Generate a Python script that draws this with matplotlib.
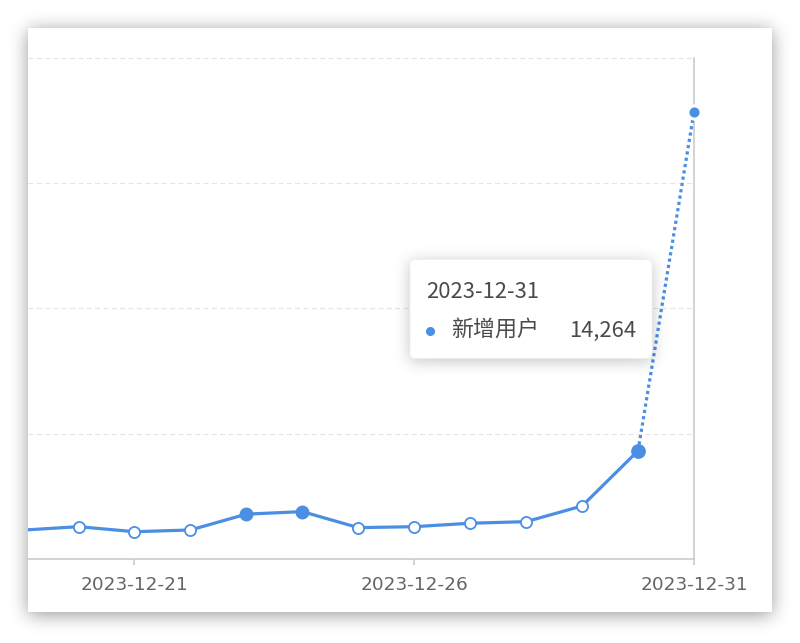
import numpy as np
import pandas as pd
import matplotlib
matplotlib.use('Agg')
import matplotlib.pyplot as plt
import matplotlib.dates as mdates
from matplotlib.patches import FancyBboxPatch, Rectangle

plt.rcParams['font.family'] = ['DejaVu Sans', 'Noto Sans CJK SC']

# data
dates = ['2023-12-19', '2023-12-20', '2023-12-21', '2023-12-22', '2023-12-23',
         '2023-12-24', '2023-12-25', '2023-12-26', '2023-12-27', '2023-12-28',
         '2023-12-29', '2023-12-30', '2023-12-31']
new_users = [930, 1040, 880, 935, 1440, 1520, 1010, 1040, 1150, 1200, 1700, 3460, 14264]
series_name = '新增用户'
tick_dates = ['2023-12-21', '2023-12-26', '2023-12-31']
y_ticks = [0, 4000, 8000, 12000, 16000]

blue = '#4a8fe3'
axis_grey = '#c8c8c8'
W, H = 800, 643


def blurred_box(x0, y0, x1, y1, sigma):
    mask = np.zeros((H, W))
    mask[y0:y1, x0:x1] = 1.0
    k = np.arange(-3 * sigma, 3 * sigma + 1)
    g = np.exp(-k ** 2 / (2.0 * sigma ** 2))
    g /= g.sum()
    mask = np.apply_along_axis(lambda r: np.convolve(r, g, mode='same'), 1, mask)
    mask = np.apply_along_axis(lambda c: np.convolve(c, g, mode='same'), 0, mask)
    return mask


fig = plt.figure(figsize=(W / 100, H / 100), dpi=100)

# card with drop shadow
bg = fig.add_axes([0, 0, 1, 1], zorder=0)
shade = 1 - 0.4 * blurred_box(28, 30, 772, 615, 9)
bg.imshow(shade, cmap='gray', vmin=0, vmax=1, extent=(0, W, H, 0), aspect='auto')
bg.add_patch(Rectangle((28, 28), 744, 584, facecolor='white', edgecolor='none'))
bg.set_xlim(0, W)
bg.set_ylim(H, 0)
bg.axis('off')

# main chart
x = pd.to_datetime(dates)
y = np.array(new_users)
ax = fig.add_axes([28 / W, (H - 559.3) / H, (694 - 28) / W, (559.3 - 57.5) / H], zorder=1)
ax.set_facecolor('none')

x_right = mdates.date2num(x[-1])
x_left = x_right - (694 - 28) / 55.95
ax.set_xlim(x_left, x_right)
ax.set_ylim(y_ticks[0], y_ticks[-1])

for v in y_ticks[1:]:
    ax.axhline(v, color='#e4e4e4', lw=0.8, ls=(0, (4.5, 3)), zorder=0, clip_on=False)
ax.axvline(x[-1], color=axis_grey, lw=1.1, zorder=1, clip_on=False)

ax.plot(x[:-1], y[:-1], color=blue, lw=2.3, zorder=3)
ax.plot(x[-2:], y[-2:], color=blue, lw=2.3, ls=(0, (1, 1)), zorder=3)

for i, (d, v) in enumerate(zip(x, y)):
    if mdates.date2num(d) < x_left:
        continue
    if i == len(x) - 1:
        ax.plot(d, v, 'o', ms=9.5, mfc=blue, mec='white', mew=2.2, zorder=5, clip_on=False)
    elif i == len(x) - 2:
        ax.plot(d, v, 'o', ms=9.6, mfc=blue, mec=blue, mew=1, zorder=4, clip_on=False)
    elif d.weekday() >= 5:
        ax.plot(d, v, 'o', ms=9, mfc=blue, mec=blue, mew=1, zorder=4, clip_on=False)
    else:
        ax.plot(d, v, 'o', ms=8, mfc='white', mec=blue, mew=1.3, zorder=4, clip_on=False)

for s in ['left', 'top', 'right']:
    ax.spines[s].set_visible(False)
ax.spines['bottom'].set_color(axis_grey)
ax.spines['bottom'].set_linewidth(1.1)
ax.set_xticks(pd.to_datetime(tick_dates))
ax.xaxis.set_major_formatter(mdates.DateFormatter('%Y-%m-%d'))
ax.tick_params(axis='x', length=4.5, width=1.1, color=axis_grey,
               labelsize=13.3, labelcolor='#666666', pad=7.5)
ax.set_yticks([])

# tooltip
ov = fig.add_axes([0, 0, 1, 1], zorder=3)
ov.set_facecolor('none')
tip = blurred_box(410, 262, 652, 361, 8)
rgba = np.zeros((H, W, 4))
rgba[..., 3] = 0.24 * tip
ov.imshow(rgba, extent=(0, W, H, 0), aspect='auto')
ov.add_patch(FancyBboxPatch((410, 259.5), 242, 99, boxstyle='round,pad=0,rounding_size=5',
                            facecolor='white', edgecolor='#eeeeee', lw=0.5))
tip_font = ['Noto Sans CJK SC', 'DejaVu Sans']
ov.text(426, 298.5, dates[-1], fontsize=15.8, color='#4a4a4a', family=tip_font, va='baseline')
ov.plot(429.5, 331, 'o', ms=5.5, color=blue)
ov.text(451, 335.5, series_name, fontsize=15.8, color='#4a4a4a', family=tip_font, va='baseline')
ov.text(636, 336.5, f'{new_users[-1]:,}', fontsize=15.8, color='#4a4a4a', family=tip_font,
        va='baseline', ha='right')
ov.set_xlim(0, W)
ov.set_ylim(H, 0)
ov.axis('off')

fig.savefig('out.png', dpi=100)
